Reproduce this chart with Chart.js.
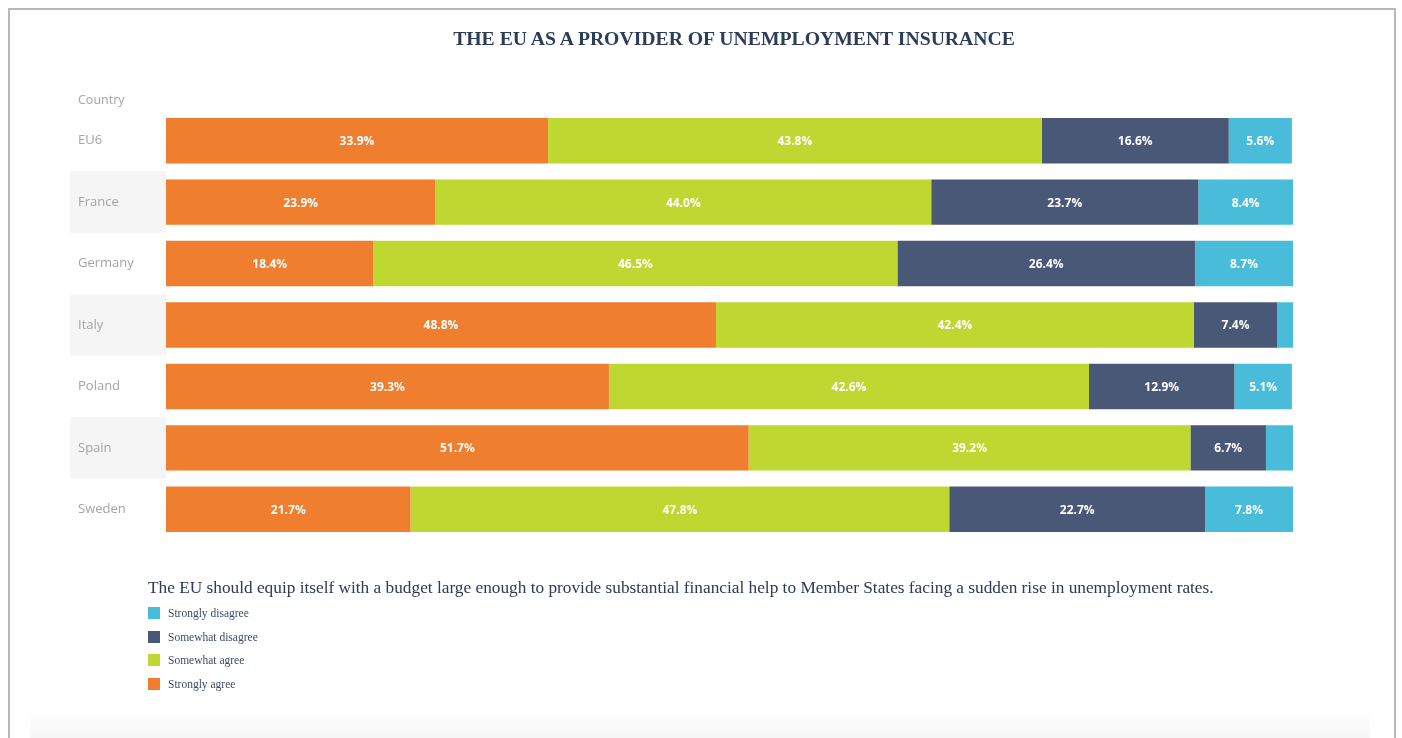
<!DOCTYPE html>
<html>
<head>
<meta charset="utf-8">
<script src="https://cdn.jsdelivr.net/npm/chart.js@4.4.1/dist/chart.umd.min.js"></script>
<style>
  html, body { margin:0; padding:0; background:#fff; }
  #wrap { position:relative; width:1402px; height:738px; overflow:hidden; }
  #frame { position:absolute; left:8px; top:8px; width:1388px; height:760px; border:2px solid #b9b9bd; box-sizing:border-box; }
  #bottomStrip { position:absolute; left:30px; top:712px; width:1340px; height:26px; background:linear-gradient(#fefefe,#f6f6f7); }
  #title { position:absolute; left:0; width:1468px; top:27px; text-align:center; font-family:"Liberation Serif","DejaVu Serif",serif; font-weight:bold; font-size:19.7px; color:#2c3d5a; }
  #country { position:absolute; left:78px; top:91px; font-family:"Open Sans","Liberation Sans",sans-serif; font-size:12.5px; color:#a4a4a4; }
  #subtitle { position:absolute; left:148px; top:578px; font-family:"Liberation Serif","DejaVu Serif",serif; font-size:17.3px; color:#2c3a55; white-space:nowrap; }
  #legend { position:absolute; left:148px; top:601px; font-family:"Liberation Serif","DejaVu Serif",serif; font-size:11.5px; color:#3d4a66; }
  .li { height:23.7px; display:flex; align-items:center; }
  .sw { width:12px; height:12px; margin-right:8px; }
  canvas { position:absolute; left:0; top:0; }
</style>
</head>
<body>
<div id="wrap">
  <div id="frame"></div>
  <div id="bottomStrip"></div>
  <canvas id="c" width="1402" height="738"></canvas>
  <div id="title">THE EU AS A PROVIDER OF UNEMPLOYMENT INSURANCE</div>
  <div id="country">Country</div>
  <div id="subtitle">The EU should equip itself with a budget large enough to provide substantial financial help to Member States facing a sudden rise in unemployment rates.</div>
  <div id="legend"></div>
</div>
<script>
const categories = ["EU6", "France", "Germany", "Italy", "Poland", "Spain", "Sweden"];
const seriesNames = ["Strongly agree", "Somewhat agree", "Somewhat disagree", "Strongly disagree"];
const stronglyAgree    = [33.9, 23.9, 18.4, 48.8, 39.3, 51.7, 21.7];
const somewhatAgree    = [43.8, 44.0, 46.5, 42.4, 42.6, 39.2, 47.8];
const somewhatDisagree = [16.6, 23.7, 26.4, 7.4, 12.9, 6.7, 22.7];
const stronglyDisagree = [5.6, 8.4, 8.7, 1.4, 5.1, 2.4, 7.8];
const colors = ["#ef7f2f", "#bed731", "#4a5878", "#48bcd8"];
const xTicks = [0, 100];

const seriesData = [stronglyAgree, somewhatAgree, somewhatDisagree, stronglyDisagree];

// HTML legend (reverse order, like the reference)
const legendEl = document.getElementById('legend');
for (let i = seriesNames.length - 1; i >= 0; i--) {
  const d = document.createElement('div');
  d.className = 'li';
  d.innerHTML = '<span class="sw" style="background:' + colors[i] + '"></span>' + seriesNames[i];
  legendEl.appendChild(d);
}

const rowBands = {
  id: 'rowBands',
  beforeDraw(chart) {
    const ctx = chart.ctx, y = chart.scales.y;
    const band = (y.bottom - y.top) / categories.length;
    ctx.save();
    ctx.fillStyle = '#f5f5f6';
    categories.forEach((c, i) => {
      if (i % 2 === 1) {
        const cy = y.getPixelForValue(i);
        ctx.fillRect(70, cy - band / 2, chart.chartArea.left - 70, band);
      }
    });
    ctx.restore();
  }
};

const barLabels = {
  id: 'barLabels',
  afterDatasetsDraw(chart) {
    const ctx = chart.ctx;
    ctx.save();
    ctx.font = 'bold 12px "Open Sans", "Liberation Sans", sans-serif';
    ctx.fillStyle = '#ffffff';
    ctx.textAlign = 'center';
    ctx.textBaseline = 'middle';
    chart.data.datasets.forEach((ds, di) => {
      const meta = chart.getDatasetMeta(di);
      meta.data.forEach((bar, i) => {
        const v = ds.data[i];
        const w = Math.abs(bar.x - bar.base);
        if (w < 30) return;
        ctx.fillText(v.toFixed(1) + '%', (bar.x + bar.base) / 2, bar.y + 1);
      });
    });
    ctx.restore();
  }
};

new Chart(document.getElementById('c'), {
  type: 'bar',
  data: {
    labels: categories,
    datasets: seriesNames.map((n, i) => ({
      label: n,
      data: seriesData[i],
      backgroundColor: colors[i],
      borderWidth: 0,
      barPercentage: 0.74,
      categoryPercentage: 1.0
    }))
  },
  options: {
    indexAxis: 'y',
    responsive: false,
    animation: false,
    devicePixelRatio: 1,
    layout: { padding: { left: 78, right: 109, top: 110, bottom: 198 } },
    plugins: { legend: { display: false }, tooltip: { enabled: false }, title: { display: false } },
    scales: {
      x: {
        stacked: true, min: xTicks[0], max: xTicks[1],
        display: false
      },
      y: {
        stacked: true,
        grid: { display: false },
        border: { display: false },
        afterFit(scale) { scale.width = 88; },
        ticks: {
          crossAlign: 'far',
          color: '#a4a4a4',
          padding: 0,
          font: { family: '"Open Sans", "Liberation Sans", sans-serif', size: 13 }
        }
      }
    }
  },
  plugins: [rowBands, barLabels]
});
</script>
</body>
</html>
